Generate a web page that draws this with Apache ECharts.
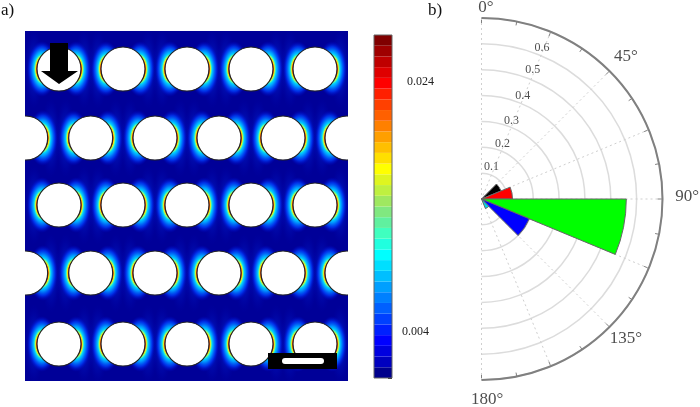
<!DOCTYPE html>
<html>
<head>
<meta charset="utf-8">
<style>
html, body { margin: 0; padding: 0; background: #fff; }
#chart { width: 700px; height: 407px; }
</style>
<script src="https://cdn.jsdelivr.net/npm/echarts@6/dist/echarts.min.js"></script>
</head>
<body>
<div id="chart"></div>
<script>
// panel a: hole lattice
const rowY = [38, 107, 174, 242, 313];
const oddRowX = [34, 98, 162, 226, 290];
const evenRowX = [0.7, 65.7, 130, 194, 258, 322];
const holeRadius = 22;

// colour bar, bottom to top
const barColours = [
    '#00008c', '#0000bf', '#0000df', '#0000ff', '#0020ff', '#0040ff', '#0060ff', '#0080ff',
    '#009fff', '#00bfff', '#00dfff', '#00ffff', '#20ffdf', '#40ffbf', '#60f09f', '#80e880',
    '#9fe860', '#bff040', '#dff520', '#ffff00', '#ffdf00', '#ffbf00', '#ff9f00', '#ff8000',
    '#ff6000', '#ff4000', '#ff2000', '#ff0000', '#df0000', '#bf0000', '#9f0000', '#800000'
];
const barMax = 0.0277;
const barLabels = [0.004, 0.024];

// panel b: rose sectors, 22.5 degrees each
const sectorNames = ['0-22.5', '22.5-45', '45-67.5', '67.5-90', '90-112.5', '112.5-135', '135-157.5', '157.5-180'];
const sectorValues = [0, 0, 0.082, 0.12, 0.56, 0.2, 0.04, 0];
const sectorColours = ['#000000', '#000000', '#000000', '#ff0000', '#00ff00', '#0000ff', '#00d8e8', '#000000'];
const radiusTicks = ['0.1', '0.2', '0.3', '0.4', '0.5', '0.6'];
const radiusTickPos = [0.131, 0.229, 0.325, 0.431, 0.537, 0.63];
const radiusTickAngle = [17, 20.7, 21, 21.7, 21.7, 21.8];
const angleTicks = ['0°', '45°', '90°', '135°', '180°'];
const angleTickPos = [0.739, 0.786, 0.795, 0.778, 0.777];
const angleTickAngle = [1.35, 45.3, 89.4, 134.1, 178.4];

const serif = '"Liberation Serif", "Times New Roman", serif';

const holes = [];
const glows = [];
const lobes = [];
rowY.forEach(function(y, i) {
    const xs = i % 2 === 0 ? oddRowX : evenRowX;
    xs.forEach(function(x) {
        holes.push([x, y]);
        glows.push([x - holeRadius - 3, y], [x + holeRadius + 3, y]);
        // centred inside the hole so the contours follow its edge
        lobes.push([x - 17, y], [x + 17, y]);
    });
});

const chart = echarts.init(document.getElementById('chart'));

const glowFill = new echarts.graphic.RadialGradient(0.5, 0.5, 0.5, [
    {offset: 0, color: '#0070ff'},
    {offset: 0.5, color: 'rgba(0,60,255,0.5)'},
    {offset: 1, color: 'rgba(0,0,200,0)'}
]);
const lobeFill = new echarts.graphic.RadialGradient(0.5, 0.5, 0.5, [
    {offset: 0.33, color: '#d00000'},
    {offset: 0.38, color: '#ff7000'},
    {offset: 0.42, color: '#ffe800'},
    {offset: 0.48, color: '#60ffa0'},
    {offset: 0.54, color: '#00d0ff'},
    {offset: 0.64, color: '#0090ff'},
    {offset: 0.8, color: 'rgba(0,64,255,0.75)'},
    {offset: 1, color: 'rgba(0,0,200,0)'}
]);

const mask = {fill: '#fff'};

chart.setOption({
    animation: false,
    backgroundColor: '#fff',
    title: [
        {text: 'a)', left: -4, top: -3, z: 60, textStyle: {fontFamily: serif, fontSize: 17, fontWeight: 'normal', color: '#111'}},
        {text: 'b)', left: 423, top: -3, z: 60, textStyle: {fontFamily: serif, fontSize: 17, fontWeight: 'normal', color: '#111'}}
    ],
    grid: [
        {left: 25, top: 31, width: 323, height: 350, show: true, backgroundColor: '#000098', borderWidth: 0},
        {left: 374, top: 35, width: 18, height: 343, show: false}
    ],
    xAxis: [
        {gridIndex: 0, type: 'value', min: 0, max: 323, show: false},
        {gridIndex: 1, type: 'value', min: 0, max: 1, show: false}
    ],
    yAxis: [
        {gridIndex: 0, type: 'value', min: 0, max: 350, inverse: true, show: false},
        {gridIndex: 1, type: 'category', data: barColours, show: false},
        {
            gridIndex: 1,
            type: 'value',
            position: 'right',
            min: 0,
            max: barMax,
            interval: 0.004,
            splitLine: {show: false},
            axisLine: {show: false},
            axisTick: {inside: true, length: 4, lineStyle: {color: '#222'}},
            axisLabel: {
                margin: 10,
                fontFamily: serif,
                fontSize: 12,
                color: '#222',
                formatter: function(v) {
                    if (Math.abs(v - barLabels[0]) < 1e-6) return '{low|0.004}';
                    if (Math.abs(v - barLabels[1]) < 1e-6) return '{high|0.024}';
                    return '';
                },
                rich: {
                    low: {fontFamily: serif, fontSize: 12, color: '#222', padding: [6, 0, 0, 0]},
                    high: {fontFamily: serif, fontSize: 12, color: '#222', padding: [2, 0, 0, 5]}
                }
            }
        }
    ],
    polar: [
        {center: [481.5, 199], radius: 181},
        {center: [481.5, 199], radius: 181}
    ],
    angleAxis: [
        {
            polarIndex: 0,
            type: 'value',
            startAngle: 90,
            endAngle: -90,
            clockwise: true,
            min: 0,
            max: 180,
            interval: 22.5,
            axisLine: {lineStyle: {color: '#808080', width: 2}},
            axisTick: {inside: true, length: 5, lineStyle: {color: '#808080', width: 1}},
            minorTick: {show: true, splitNumber: 2, length: 4, lineStyle: {color: '#808080', width: 1}},
            splitLine: {show: true, lineStyle: {color: '#cfcfcf', type: [2, 3], width: 1}},
            axisLabel: {show: false}
        },
        {polarIndex: 1, type: 'category', data: sectorNames, startAngle: 90, endAngle: -90, clockwise: true, show: false}
    ],
    radiusAxis: [
        {
            polarIndex: 0,
            type: 'value',
            min: 0,
            max: 0.7,
            interval: 0.1,
            axisLine: {show: false},
            axisTick: {show: false},
            axisLabel: {show: false},
            splitLine: {show: true, lineStyle: {color: '#dcdcdc', width: 1.5}}
        },
        {polarIndex: 1, type: 'value', min: 0, max: 0.7, show: false}
    ],
    series: [
        {
            type: 'scatter',
            xAxisIndex: 0,
            yAxisIndex: 0,
            data: glows,
            symbol: 'circle',
            symbolSize: [20, 80],
            silent: true,
            itemStyle: {color: glowFill, opacity: 0.45}
        },
        {
            type: 'scatter',
            xAxisIndex: 0,
            yAxisIndex: 0,
            data: lobes,
            symbol: 'circle',
            symbolSize: [30, 56],
            silent: true,
            itemStyle: {color: lobeFill, opacity: 1}
        },
        {
            type: 'scatter',
            xAxisIndex: 0,
            yAxisIndex: 0,
            data: holes,
            symbol: 'circle',
            symbolSize: holeRadius * 2,
            silent: true,
            itemStyle: {color: '#fff', borderColor: '#222', borderWidth: 1.2, opacity: 1}
        },
        {
            type: 'bar',
            xAxisIndex: 1,
            yAxisIndex: 1,
            barCategoryGap: 0,
            silent: true,
            data: barColours.map(function(c) {
                return {value: 1, itemStyle: {color: c}};
            })
        },
        {
            type: 'bar',
            coordinateSystem: 'polar',
            polarIndex: 1,
            barCategoryGap: 0,
            silent: true,
            data: sectorValues.map(function(v, i) {
                return {
                    value: v,
                    itemStyle: {color: sectorColours[i], borderColor: '#666', borderWidth: 1}
                };
            })
        },
        {
            type: 'scatter',
            coordinateSystem: 'polar',
            polarIndex: 0,
            symbolSize: 0,
            silent: true,
            data: radiusTicks.map(function(t, i) {
                return {value: [radiusTickPos[i], radiusTickAngle[i]], name: t};
            }),
            label: {
                show: true,
                position: 'inside',
                formatter: '{b}',
                fontFamily: serif,
                fontSize: 12,
                color: '#222'
            }
        },
        {
            type: 'scatter',
            coordinateSystem: 'polar',
            polarIndex: 0,
            symbolSize: 0,
            silent: true,
            clip: false,
            data: angleTicks.map(function(t, i) {
                return {value: [angleTickPos[i], angleTickAngle[i]], name: t};
            }),
            label: {
                show: true,
                position: 'inside',
                formatter: '{b}',
                fontFamily: serif,
                fontSize: 17,
                color: '#222'
            }
        }
    ],
    graphic: [
        // white frame: scatter marks run over the panel edge
        {type: 'rect', z: 40, shape: {x: 0, y: 0, width: 25, height: 407}, style: mask},
        {type: 'rect', z: 40, shape: {x: 348, y: 0, width: 25, height: 407}, style: mask},
        {type: 'rect', z: 40, shape: {x: 0, y: 0, width: 373, height: 31}, style: mask},
        {type: 'rect', z: 40, shape: {x: 0, y: 381, width: 373, height: 26}, style: mask},
        // colour bar frame
        {type: 'rect', z: 50, shape: {x: 374, y: 35, width: 18, height: 343}, style: {fill: 'none', stroke: '#666', lineWidth: 1}},
        // arrow on the first hole
        {
            type: 'polygon',
            z: 50,
            shape: {points: [[50, 43], [68, 43], [68, 71], [78, 71], [59, 84], [41, 71], [50, 71]]},
            style: {fill: '#000'}
        },
        // scale bar
        {type: 'rect', z: 50, shape: {x: 268, y: 353, width: 69, height: 16}, style: {fill: '#000'}},
        {type: 'rect', z: 51, shape: {x: 282, y: 358, width: 42, height: 6, r: 3}, style: {fill: '#fff'}}
    ]
});

window.addEventListener('resize', function() {
    chart.resize();
});
</script>
</body>
</html>
